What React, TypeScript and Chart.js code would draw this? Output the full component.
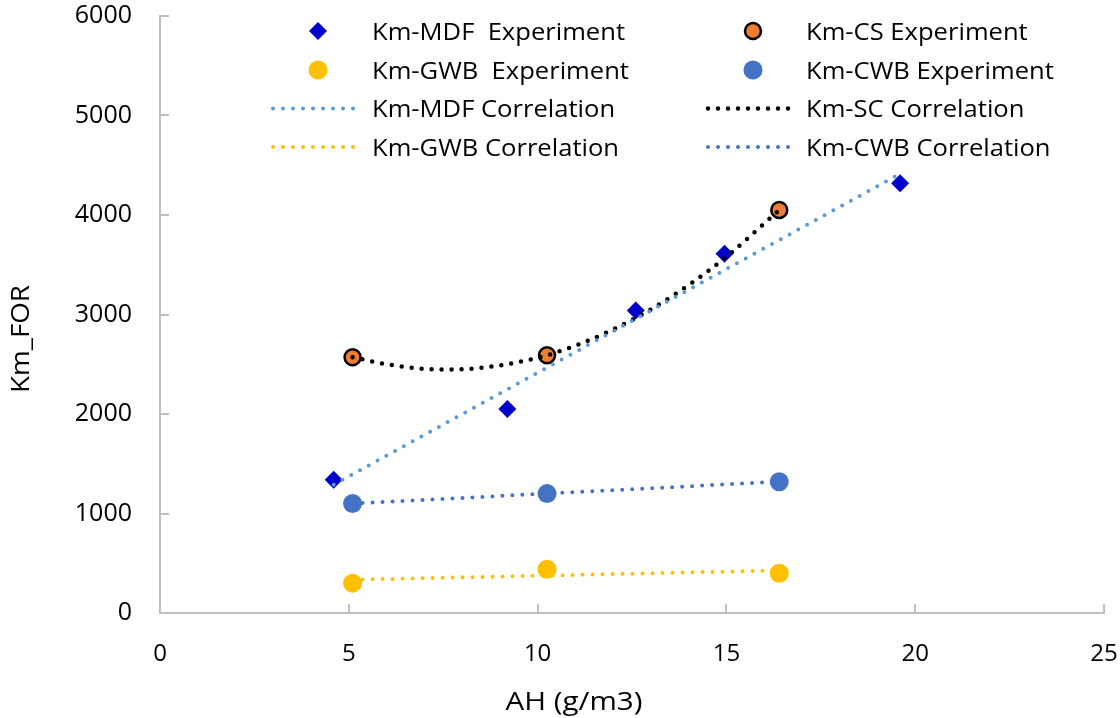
import React, { useEffect, useRef } from "react";
import { Chart, registerables } from "chart.js";

Chart.register(...registerables);

// ---- data ----
const mdfX = [4.6, 9.2, 12.6, 14.95, 19.6];
const mdfY = [1340, 2050, 3040, 3610, 4320];
const csX = [5.1, 10.25, 16.4];
const csY = [2570, 2590, 4050];
const gwbX = [5.1, 10.25, 16.4];
const gwbY = [300, 440, 400];
const cwbX = [5.1, 10.25, 16.4];
const cwbY = [1100, 1200, 1320];

const mdfCorrX = [4.6, 19.6];
const mdfCorrY = [1290, 4415];
const scCorrX = [5.1, 6, 7, 7.6, 8.5, 9.5, 10.25, 11, 12, 13, 14, 15, 16.4];
const scCorrY = [2570, 2500, 2453, 2446, 2464, 2522, 2590, 2687, 2849, 3052, 3296, 3581, 4050];
const gwbCorrX = [5.1, 16.4];
const gwbCorrY = [334, 428];
const cwbCorrX = [5.1, 16.4];
const cwbCorrY = [1100, 1320];

const xTicks = [0, 5, 10, 15, 20, 25];
const yTicks = [0, 1000, 2000, 3000, 4000, 5000, 6000];

const labels = [
  "Km-MDF  Experiment",
  "Km-CS Experiment",
  "Km-GWB  Experiment",
  "Km-CWB Experiment",
  "Km-MDF Correlation",
  "Km-SC Correlation",
  "Km-GWB Correlation",
  "Km-CWB Correlation",
];
const xTitle = "AH (g/m3)";
const yTitle = "Km_FOR";

const FONT = "'Open Sans', 'Noto Sans', sans-serif";
const GRAY = "#bfbfbf";

const pts = (xs: number[], ys: number[]) => xs.map((x, i) => ({ x, y: ys[i] }));

const overlayPlugin = {
  id: "overlay",
  afterDraw(chart: any) {
    const ctx = chart.ctx;
    const xs = chart.scales.x;
    const ys = chart.scales.y;
    ctx.save();
    // inward tick marks
    ctx.strokeStyle = GRAY;
    ctx.lineWidth = 2;
    xs.ticks.forEach((t: any) => {
      const px = Math.round(xs.getPixelForValue(t.value));
      ctx.beginPath();
      ctx.moveTo(px, ys.bottom);
      ctx.lineTo(px, ys.bottom - 9);
      ctx.stroke();
    });
    ys.ticks.forEach((t: any) => {
      const py = Math.round(ys.getPixelForValue(t.value));
      ctx.beginPath();
      ctx.moveTo(xs.left, py);
      ctx.lineTo(xs.left + 9, py);
      ctx.stroke();
    });

    // axis titles
    ctx.fillStyle = "#000";
    ctx.font = `26px ${FONT}`;
    ctx.textAlign = "center";
    ctx.textBaseline = "alphabetic";
    let w = ctx.measureText(xTitle).width;
    ctx.save();
    ctx.translate(574, 710);
    ctx.scale(137 / w, 1);
    ctx.fillText(xTitle, 0, 0);
    ctx.restore();
    w = ctx.measureText(yTitle).width;
    ctx.save();
    ctx.translate(29, 339);
    ctx.rotate(-Math.PI / 2);
    ctx.scale(108 / w, 1);
    ctx.fillText(yTitle, 0, 0);
    ctx.restore();

    // legend (2 columns x 4 rows)
    const colCenter = [318, 753];
    const colText = [372, 806];
    const rowBase = [39.5, 78.5, 117, 155.5];
    ctx.font = `24px ${FONT}`;
    ctx.textAlign = "left";
    ctx.textBaseline = "alphabetic";
    const sx = 253 / ctx.measureText(labels[0]).width;
    for (let i = 0; i < 8; i++) {
      const ds = chart.data.datasets[i];
      const col = i % 2;
      const row = Math.floor(i / 2);
      const cx = colCenter[col];
      const cy = rowBase[row] - 8.5;
      if (ds.showLine) {
        ctx.save();
        ctx.strokeStyle = ds.borderColor;
        ctx.lineWidth = ds.borderWidth;
        ctx.lineCap = "round";
        ctx.setLineDash(ds.borderDash);
        ctx.beginPath();
        ctx.moveTo(cx - 45, cy);
        ctx.lineTo(cx + 45, cy);
        ctx.stroke();
        ctx.restore();
      } else {
        ctx.save();
        ctx.fillStyle = ds.pointBackgroundColor;
        ctx.strokeStyle = ds.pointBorderColor;
        ctx.lineWidth = ds.pointBorderWidth;
        ctx.beginPath();
        const r = ds.pointRadius;
        if (ds.pointStyle === "rectRot") {
          ctx.moveTo(cx, cy - r);
          ctx.lineTo(cx + r, cy);
          ctx.lineTo(cx, cy + r);
          ctx.lineTo(cx - r, cy);
          ctx.closePath();
        } else {
          ctx.arc(cx, cy, r, 0, Math.PI * 2);
        }
        ctx.fill();
        if (ds.pointBorderWidth > 0) ctx.stroke();
        ctx.restore();
      }
      ctx.save();
      ctx.translate(colText[col], rowBase[row]);
      ctx.scale(sx, 1);
      ctx.fillStyle = "#000";
      ctx.fillText(labels[i], 0, 0);
      ctx.restore();
    }
    ctx.restore();
  },
};

export default function App() {
  const ref = useRef<HTMLCanvasElement | null>(null);
  useEffect(() => {
    document.body.style.margin = "0";
    const canvas = ref.current;
    if (!canvas) return;
    const marker = (data: any, style: string, bg: string, border: string, bw: number, r: number) => ({
      data,
      showLine: false,
      pointStyle: style,
      pointRadius: r,
      pointHoverRadius: r,
      pointBackgroundColor: bg,
      pointBorderColor: border,
      pointBorderWidth: bw,
      order: 1,
    });
    const corr = (data: any, color: string, w: number) => ({
      data,
      showLine: true,
      pointRadius: 0,
      pointHoverRadius: 0,
      borderColor: color,
      borderWidth: w,
      borderDash: [0, 10],
      borderCapStyle: "round",
      tension: 0.4,
      cubicInterpolationMode: "monotone",
      fill: false,
      order: 0,
    });
    const chart = new Chart(canvas, {
      type: "scatter",
      data: {
        datasets: [
          marker(pts(mdfX, mdfY), "rectRot", "#0000CC", "#0000CC", 0, 9),
          marker(pts(csX, csY), "circle", "#ED7D31", "#000000", 2.5, 8),
          marker(pts(gwbX, gwbY), "circle", "#FFC000", "#FFC000", 0, 9.5),
          marker(pts(cwbX, cwbY), "circle", "#4472C4", "#4472C4", 0, 9.5),
          corr(pts(mdfCorrX, mdfCorrY), "#5B9BD5", 4),
          corr(pts(scCorrX, scCorrY), "#000000", 4.5),
          corr(pts(gwbCorrX, gwbCorrY), "#FFC000", 4),
          corr(pts(cwbCorrX, cwbCorrY), "#4472C4", 4),
        ] as any,
      },
      options: {
        responsive: false,
        animation: false,
        events: [],
        layout: { padding: { left: 0, top: 16, right: 16, bottom: 0 } },
        plugins: { legend: { display: false }, tooltip: { enabled: false } },
        scales: {
          x: {
            type: "linear",
            min: 0,
            max: 25,
            afterBuildTicks: (s: any) => {
              s.ticks = xTicks.map((v) => ({ value: v }));
            },
            afterFit: (s: any) => {
              s.height = 105;
              s.paddingLeft = 0;
              s.paddingRight = 0;
            },
            grid: { display: false, drawTicks: false },
            border: { display: true, color: GRAY, width: 2 },
            ticks: { color: "#000", font: { family: FONT, size: 24 }, padding: 27, maxRotation: 0, callback: (v: any) => String(v) },
          },
          y: {
            type: "linear",
            min: 0,
            max: 6000,
            afterBuildTicks: (s: any) => {
              s.ticks = yTicks.map((v) => ({ value: v }));
            },
            afterFit: (s: any) => {
              s.width = 160;
              s.paddingTop = 0;
              s.paddingBottom = 0;
            },
            grid: { display: false, drawTicks: false },
            border: { display: true, color: GRAY, width: 2 },
            ticks: { color: "#000", font: { family: FONT, size: 25 }, padding: 28, callback: (v: any) => String(v) },
          },
        },
      } as any,
      plugins: [overlayPlugin],
    });
    return () => chart.destroy();
  }, []);
  return (
    <div style={{ width: 1120, height: 718, background: "#fff" }}>
      <canvas ref={ref} width={1120} height={718} style={{ display: "block" }} />
    </div>
  );
}
